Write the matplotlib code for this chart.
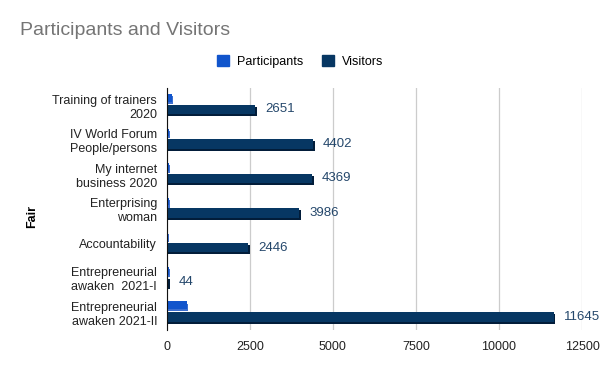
import numpy as np
import matplotlib
matplotlib.use("Agg")
import matplotlib.pyplot as plt
import matplotlib.patheffects as pe
from matplotlib.patches import Patch

plt.rcParams['font.family'] = ['Liberation Sans', 'DejaVu Sans']

fairs = ["Training of trainers\n2020", "IV World Forum\nPeople/persons", "My internet\nbusiness 2020",
         "Enterprising\nwoman", "Accountability", "Entrepreneurial\nawaken  2021-I",
         "Entrepreneurial\nawaken 2021-II"]
participants = [150, 60, 60, 60, 15, 60, 600]
visitors = [2651, 4402, 4369, 3986, 2446, 44, 11645]

blue = "#1155cc"
navy = "#073763"

fig = plt.figure(figsize=(6, 3.71), dpi=100)
ax = fig.add_axes([0.278, 0.111, 0.692, 0.652])

y = np.arange(len(fairs))
shadow = lambda c: [pe.SimplePatchShadow(offset=(1.2, -1.5), shadow_rgbFace=c, alpha=1), pe.Normal()]
pb = ax.barh(y - 0.21, participants, height=0.22, color=blue, zorder=3)
vb = ax.barh(y + 0.12, visitors, height=0.28, color=navy, zorder=3)
for b in pb:
    b.set_path_effects(shadow("#3c6fd0"))
for b in vb:
    b.set_path_effects(shadow("#021d3a"))

for yi, v in zip(y, visitors):
    ax.text(v + 300, yi + 0.12, str(v), va='center', ha='left', fontsize=9.5, color="#24476b")

ax.set_xlim(0, 12500)
ax.set_ylim(6.5, -0.5)
ax.set_xticks([0, 2500, 5000, 7500, 10000, 12500])
ax.set_yticks(y)
ax.set_yticklabels(fairs, fontsize=9, color="#222222")
ax.tick_params(axis='x', labelsize=9, colors="#222222", length=0, pad=8)
ax.tick_params(axis='y', length=0, pad=7)
ax.grid(axis='x', color="#cccccc", linewidth=0.9, zorder=0)
for s in ['top', 'right', 'bottom']:
    ax.spines[s].set_visible(False)
ax.spines['left'].set_color("#111111")
ax.spines['left'].set_zorder(4)
ax.set_ylabel("Fair", fontsize=9, fontweight='bold')
ax.yaxis.set_label_coords(-0.31, 0.47)

fig.text(0.033, 0.917, "Participants and Visitors", fontsize=14, color="#757575", va='center')
handles = [Patch(color=blue, label="Participants"), Patch(color=navy, label="Visitors")]
fig.legend(handles=handles, loc='center', bbox_to_anchor=(0.5, 0.835), ncol=2, frameon=False,
           fontsize=9, handlelength=1.0, handleheight=1.0, columnspacing=1.5, handletextpad=0.6)

fig.savefig("out.png", dpi=100)
